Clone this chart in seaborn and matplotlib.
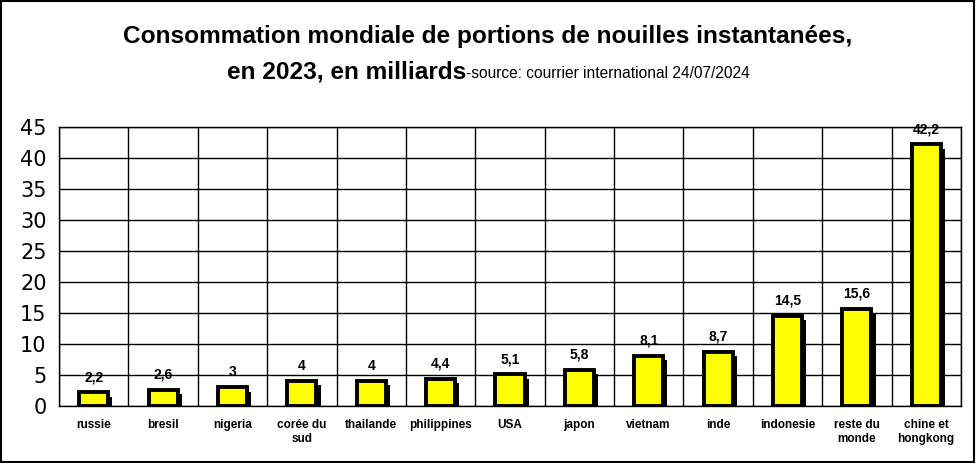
import numpy as np
import pandas as pd
import matplotlib
matplotlib.use("Agg")
import matplotlib.pyplot as plt
import matplotlib.patheffects as pe
from matplotlib.patches import Rectangle
import seaborn as sns

# Data (billions of portions, 2023)
pays = ["russie", "bresil", "nigeria", "corée du\nsud", "thailande", "philippines",
        "USA", "japon", "vietnam", "inde", "indonesie", "reste du\nmonde",
        "chine et\nhongkong"]
portions = [2.2, 2.6, 3, 4, 4, 4.4, 5.1, 5.8, 8.1, 8.7, 14.5, 15.6, 42.2]
y_ticks = [0, 5, 10, 15, 20, 25, 30, 35, 40, 45]

df = pd.DataFrame({"pays": pays, "portions": portions})

sns.set_style("white")
plt.rcParams["font.family"] = ["Liberation Sans", "DejaVu Sans"]
plt.rcParams["text.color"] = "black"
plt.rcParams["xtick.color"] = "black"
plt.rcParams["ytick.color"] = "black"

fig = plt.figure(figsize=(9.76, 4.63), dpi=100)
ax = fig.add_axes([0.0605, 0.1231, 0.924, 0.6026])

sns.barplot(x="pays", y="portions", data=df, color="#FFFF00", saturation=1,
            edgecolor="black", linewidth=2.8, width=0.42, ax=ax)

# black drop shadow like the old Excel bars
for bar in ax.patches:
    bar.set_path_effects([pe.SimplePatchShadow(offset=(3, -3), shadow_rgbFace="black", alpha=1),
                          pe.Normal()])
    bar.set_zorder(3)

# value labels, french decimal comma
for i, v in enumerate(portions):
    ax.annotate(f"{v:g}".replace(".", ","), (i, v), xytext=(0, 6), textcoords="offset points",
                ha="center", va="bottom", fontsize=10, fontweight="bold")

ax.set_xlim(-0.5, len(pays) - 0.5)
ax.set_ylim(0, 45)
ax.set_yticks(y_ticks)
ax.set_yticklabels([str(t) for t in y_ticks], fontsize=15, family="DejaVu Sans")
ax.set_xticks(np.arange(-0.5, len(pays), 1), minor=True)
ax.tick_params(axis="x", which="major", length=0, labelsize=8.5, pad=9)
ax.tick_params(axis="x", which="minor", length=6, width=1, color="black", direction="out")
ax.tick_params(axis="y", length=6, width=1, color="black", direction="out", pad=3)
for lab in ax.get_xticklabels():
    lab.set_fontweight("bold")
    lab.set_linespacing(1.3)

ax.grid(axis="y", which="major", color="black", linewidth=1)
ax.grid(axis="x", which="minor", color="black", linewidth=1)
ax.set_axisbelow(True)
for s in ax.spines.values():
    s.set_color("black")
    s.set_linewidth(1)

ax.set_xlabel("")
ax.set_ylabel("")

# title in two parts on the second line
fig.text(0.5, 0.907, "Consommation mondiale de portions de nouilles instantanées,",
         ha="center", va="baseline", fontsize=17.6, fontweight="bold")
fig.text(0.4775, 0.8315, "en 2023, en milliards", ha="right", va="baseline",
         fontsize=17.6, fontweight="bold")
fig.text(0.4775, 0.8315, "-source: courrier international 24/07/2024", ha="left",
         va="baseline", fontsize=11.2)

# outer frame of the chart area
fig.patches.append(Rectangle((0.001, 0.003), 0.997, 0.995, transform=fig.transFigure,
                             fill=False, edgecolor="black", linewidth=1.5))

plt.savefig("out.png", dpi=100)
